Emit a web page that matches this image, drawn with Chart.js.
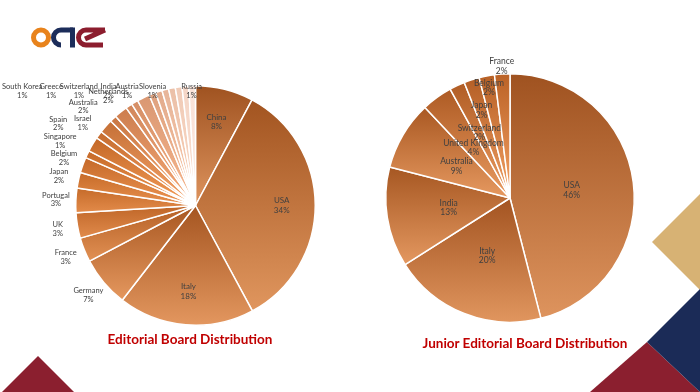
<!DOCTYPE html>
<html>
<head>
<meta charset="utf-8">
<script src="https://cdn.jsdelivr.net/npm/chart.js@4.4.1/dist/chart.umd.min.js"></script>
<style>
html, body { margin: 0; padding: 0; background: #fff; }
#page { position: relative; width: 700px; height: 392px; overflow: hidden; background: #fff; font-family: Lato, "Open Sans", sans-serif; }
#bg { position: absolute; left: 0; top: 0; }
canvas { position: absolute; }
.title { position: absolute; color: #C00000; font-weight: 700; font-size: 13.5px; white-space: nowrap; transform: translateX(-50%); }
</style>
</head>
<body>
<div id="page">
  <svg id="bg" width="700" height="392">
    <!-- logo -->
    <circle cx="41" cy="37.5" r="7.5" fill="none" stroke="#E8831C" stroke-width="5"/>
    <path d="M73 30 L61 30 A7.5 7.5 0 0 0 61 45" fill="none" stroke="#1C2D5A" stroke-width="5"/>
    <rect x="70" y="27.5" width="5" height="20" fill="#1C2D5A"/>
    <path d="M105 30 L86 30 A7.5 7.5 0 0 0 86 45 L103 45 M105 30 L85 39" fill="none" stroke="#8C1D2E" stroke-width="5"/>
    <!-- corner shapes -->
    <polygon points="2,392 38,356 74,392" fill="#8B1F2F"/>
    <polygon points="652,242 700,194 700,290" fill="#D7B274"/>
    <polygon points="590,392 647,342 700,392" fill="#8B1F2F"/>
    <polygon points="647,342 700,289 700,392" fill="#1B2B57"/>
  </svg>
  <canvas id="editorial" width="350" height="290" style="left:0;top:60px"></canvas>
  <canvas id="junior" width="350" height="300" style="left:350px;top:40px"></canvas>
  <div class="title" style="left:190px;top:331px">Editorial Board Distribution</div>
  <div class="title" style="left:525px;top:335px">Junior Editorial Board Distribution</div>
</div>
<script>
// Editorial board shares (%), clockwise from 12 o'clock.
// Blank names = thin slices whose labels are hidden in the source.
const editorialCountries = ['China', 'USA', 'Italy', 'Germany', 'France', 'UK', 'Portugal', 'Japan', 'Belgium',
    'Singapore', 'Spain', 'Israel', 'Australia', 'South Korea', 'Netherlands', 'Greece', 'Switzerland', 'India',
    'Austria', 'Slovenia', '', '', '', '', 'Russia'];
const editorialShares = [7.8, 34.2, 18.3, 6.8, 3.3, 3.4, 3.3, 2.1, 2.1,
    1.0, 2.0, 1.0, 1.9, 0.9, 1.8, 0.9, 0.9, 1.7,
    0.9, 0.9, 0.9, 0.9, 0.9, 0.9, 0.9];

// Junior editorial board shares (%)
const juniorCountries = ['USA', 'Italy', 'India', 'Australia', 'United Kingdom', 'Switzerland', 'Japan', 'Belgium', 'France'];
const juniorShares = [46, 20, 13, 9, 4, 2, 2, 2, 2];

const DARK = [120, 50, 10];
const LIGHT = [255, 190, 140];

function hexToRgb(h) {
    const n = parseInt(h.slice(1), 16);
    return [(n >> 16) & 255, (n >> 8) & 255, n & 255];
}
function mix(a, b, t) { return a.map((v, i) => Math.round(v + (b[i] - v) * t)); }
function rgb(c) { return `rgb(${c[0]},${c[1]},${c[2]})`; }

/** Pick a colour along a list of [position, hex] stops */
function paletteColor(stops, t) {
    for (let k = 1; k < stops.length; k++) {
        if (t <= stops[k][0]) {
            const [p0, c0] = stops[k - 1];
            const [p1, c1] = stops[k];
            return mix(hexToRgb(c0), hexToRgb(c1), (t - p0) / (p1 - p0));
        }
    }
    return hexToRgb(stops[stops.length - 1][1]);
}

/** Each slice gets its own top-to-bottom gradient, like the office chart.
 *  fadeFrom: palette position after which the gradient fades out (pale slices look flat). */
function sliceFill(stops, fadeFrom) {
    return (c) => {
        const chart = c.chart;
        const values = c.dataset.data;
        const i = c.dataIndex;
        const t = values.length > 1 ? i / (values.length - 1) : 0;
        const base = paletteColor(stops, t);
        const area = chart.chartArea;
        if (!area) return rgb(base);
        const cx = (area.left + area.right) / 2, cy = (area.top + area.bottom) / 2;
        const R = Math.min(area.width, area.height) / 2;
        const total = values.reduce((a, b) => a + b, 0);
        const before = values.slice(0, i).reduce((a, b) => a + b, 0);
        const a0 = -Math.PI / 2 + 2 * Math.PI * before / total;
        const a1 = a0 + 2 * Math.PI * values[i] / total;
        let top = cy, bottom = cy;
        for (let s = 0; s <= 24; s++) {
            const y = cy + R * Math.sin(a0 + (a1 - a0) * s / 24);
            top = Math.min(top, y);
            bottom = Math.max(bottom, y);
        }
        if (bottom - top < 1) bottom = top + 1;
        let strength = t <= fadeFrom ? 1 : 1 - 0.95 * (t - fadeFrom) / (1 - fadeFrom);
        strength *= Math.min(1, 0.3 + (bottom - top) / R);
        const g = chart.ctx.createLinearGradient(0, top, 0, bottom);
        g.addColorStop(0, rgb(mix(base, DARK, 0.42 * strength)));
        g.addColorStop(1, rgb(mix(base, LIGHT, 0.5 * strength)));
        return g;
    };
}

function overlapArea(a, b) {
    const w = Math.min(a.r, b.r) - Math.max(a.l, b.l);
    const h = Math.min(a.b, b.b) - Math.max(a.t, b.t);
    return w > 0 && h > 0 ? w * h : 0;
}

/** true when (px, py) falls inside one of the big slices */
function inBigSlice(px, py, arcs, values, total, bigMin) {
    return arcs.some((arc, j) => {
        if (values[j] / total * 100 < bigMin) return false;
        const dx = px - arc.x, dy = py - arc.y;
        if (Math.hypot(dx, dy) > arc.outerRadius) return false;
        let a = Math.atan2(dy, dx);
        while (a < arc.startAngle) a += Math.PI * 2;
        return a <= arc.endAngle;
    });
}

/** Two-line "Name / NN%" labels, pushed outward a few steps when they collide */
const sliceLabels = {
    id: 'sliceLabels',
    afterDatasetsDraw(chart, args, opts) {
        const ctx = chart.ctx;
        const ds = chart.data.datasets[0];
        const names = chart.data.labels;
        const total = ds.data.reduce((a, b) => a + b, 0);
        const arcs = chart.getDatasetMeta(0).data;
        const minY = chart.chartArea.top + opts.minTop;
        const placed = [];

        const startR = (i) => ds.data[i] >= opts.insideMin
            ? arcs[i].outerRadius * opts.insideFrac
            : arcs[i].outerRadius + opts.outsideGap;
        const midOf = (i) => (arcs[i].startAngle + arcs[i].endAngle) / 2;

        // inside labels first, then the row squeezed against the top (walking back from 12 o'clock),
        // then the remaining outside labels in slice order
        const named = arcs.map((a, i) => i).filter(i => names[i]);
        const ins = named.filter(i => ds.data[i] >= opts.insideMin);
        const outs = named.filter(i => ds.data[i] < opts.insideMin);
        const hitsTop = (i) => arcs[i].y + startR(i) * Math.sin(midOf(i)) < minY;
        const topRow = outs.filter(hitsTop).reverse();
        const rest = outs.filter(i => !hitsTop(i));

        ctx.save();
        ctx.textAlign = 'center';
        ctx.textBaseline = 'middle';
        [...ins, ...topRow, ...rest].forEach(i => {
            const arc = arcs[i];
            const v = ds.data[i];
            const inside = v >= opts.insideMin;
            const size = inside ? opts.insideFont : opts.outsideFont;
            ctx.font = `${size}px Lato, sans-serif`;
            const lines = [names[i], Math.round(v / total * 100) + '%'];
            const w = Math.max(...lines.map(t => ctx.measureText(t).width));
            const lh = size * 1.15, h = lh * 2;
            const mid = midOf(i);
            const small = v / total * 100 < opts.bigMin;
            let best = null;
            for (let k = 0; k <= opts.maxPush; k++) {
                const r = startR(i) + k * opts.step;
                const x = Math.max(arc.x + r * Math.cos(mid), w / 2 + 2);
                const y = Math.max(arc.y + r * Math.sin(mid), minY);
                const s = opts.shrink;
                const box = { x, y, l: x - w / 2 + s, r: x + w / 2 - s, t: y - h / 2 + s, b: y + h / 2 - s };
                let cost = placed.reduce((sum, p) => sum + overlapArea(box, p), 0);
                if (opts.avoidBig && small) {
                    const corners = [[box.l, box.t], [box.r, box.t], [box.l, box.b], [box.r, box.b]];
                    if (corners.some(([px, py]) => inBigSlice(px, py, arcs, ds.data, total, opts.bigMin))) cost += 1000;
                }
                if (!best || cost < best.cost) best = { ...box, cost };
                if (cost === 0) break;
            }
            placed.push(best);
            ctx.fillStyle = opts.color;
            ctx.fillText(lines[0], best.x, best.y - lh / 2);
            ctx.fillText(lines[1], best.x, best.y + lh / 2);
        });
        ctx.restore();
    }
};

function buildPie(canvasId, labels, values, stops, fadeFrom, padding, labelOpts) {
    return new Chart(document.getElementById(canvasId), {
        type: 'pie',
        data: {
            labels,
            datasets: [{
                data: values,
                backgroundColor: sliceFill(stops, fadeFrom),
                borderColor: '#fff',
                borderWidth: 1.5,
                hoverOffset: 0
            }]
        },
        options: {
            responsive: false,
            animation: false,
            layout: { padding },
            plugins: {
                legend: { display: false },
                tooltip: { enabled: false },
                sliceLabels: labelOpts
            }
        },
        plugins: [sliceLabels]
    });
}

buildPie('editorial', editorialCountries, editorialShares,
    [[0, '#BC6A30'], [0.42, '#EE8535'], [0.6, '#F2A272'], [1, '#FCE6DC']], 0.42,
    { left: 75, right: 34, top: 25, bottom: 24 },
    { insideMin: 7.5, insideFrac: 0.72, outsideGap: 20, step: 10, maxPush: 12, shrink: 1, minTop: 6,
      avoidBig: false, bigMin: 15, insideFont: 8, outsideFont: 7.5, color: '#404040' });

buildPie('junior', juniorCountries, juniorShares,
    [[0, '#BC6A30'], [1, '#EA843A']], 1,
    { left: 35, right: 65, top: 33, bottom: 17 },
    { insideMin: 0, insideFrac: 0.5, outsideGap: 12, step: 10, maxPush: 9, shrink: 3, minTop: -25,
      avoidBig: true, bigMin: 15, insideFont: 8.5, outsideFont: 8.5, color: '#404040' });
</script>
</body>
</html>
